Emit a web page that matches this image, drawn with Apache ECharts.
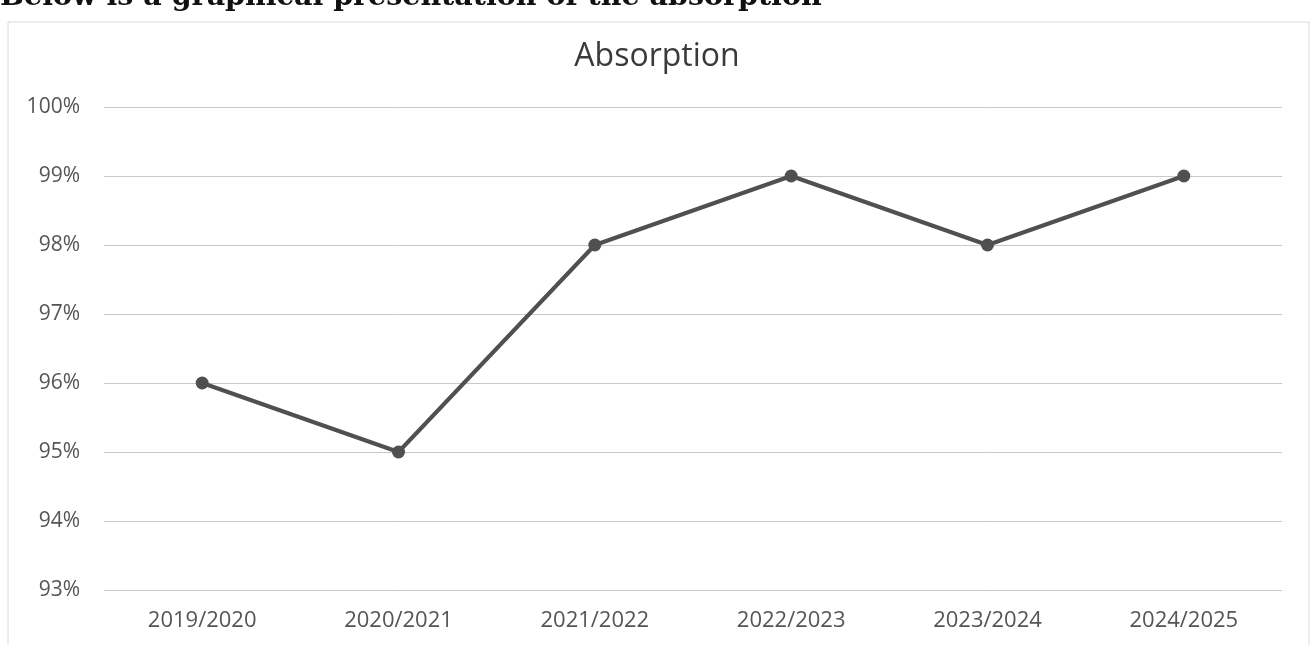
<!DOCTYPE html>
<html>
<head>
<meta charset="utf-8">
<script src="https://cdn.jsdelivr.net/npm/echarts@6/dist/echarts.min.js"></script>
<style>
  html, body { margin: 0; padding: 0; background: #fff; }
  #chart { width: 1314px; height: 645px; }
</style>
</head>
<body>
<div id="chart"></div>
<script>
// years on the x axis
var seasons = ['2019/2020', '2020/2021', '2021/2022', '2022/2023', '2023/2024', '2024/2025'];
// absorption in percent
var absorption = [96, 95, 98, 99, 98, 99];

var chart = echarts.init(document.getElementById('chart'));

chart.setOption({
  backgroundColor: '#ffffff',
  animation: false,
  title: {
    text: 'Absorption',
    left: 'center',
    top: 36,
    textStyle: {
      fontFamily: '"Open Sans", sans-serif',
      fontWeight: 'normal',
      fontSize: 32,
      color: '#3a3a3a'
    }
  },
  graphic: [
    {
      type: 'text',
      left: 0,
      top: -17,
      style: {
        text: 'Below is a graphical presentation of the absorption',
        font: 'bold 28.5px "DejaVu Serif", "Liberation Serif", serif',
        fill: '#111'
      }
    },
    {
      type: 'rect',
      shape: { x: 8, y: 22, width: 1301, height: 640 },
      style: { fill: 'none', stroke: '#dadada', lineWidth: 1 }
    }
  ],
  grid: {
    left: 104,
    right: 32,
    top: 107,
    bottom: 55
  },
  xAxis: {
    type: 'category',
    data: seasons,
    boundaryGap: true,
    axisLine: { show: false },
    axisTick: { show: false },
    axisLabel: {
      margin: 20,
      fontFamily: '"Open Sans", sans-serif',
      fontSize: 22,
      color: '#555'
    }
  },
  yAxis: {
    type: 'value',
    min: 93,
    max: 100,
    interval: 1,
    axisLine: { show: false },
    axisTick: { show: false },
    axisLabel: {
      margin: 24,
      formatter: '{value}%',
      fontFamily: '"Open Sans", sans-serif',
      fontSize: 21,
      color: '#555'
    },
    splitLine: {
      lineStyle: { color: '#c8c8c8', width: 1 }
    }
  },
  series: [{
    name: 'Absorption',
    type: 'line',
    data: absorption,
    symbol: 'circle',
    symbolSize: 13,
    lineStyle: { color: '#505050', width: 4 },
    itemStyle: { color: '#505050' }
  }]
});
</script>
</body>
</html>
